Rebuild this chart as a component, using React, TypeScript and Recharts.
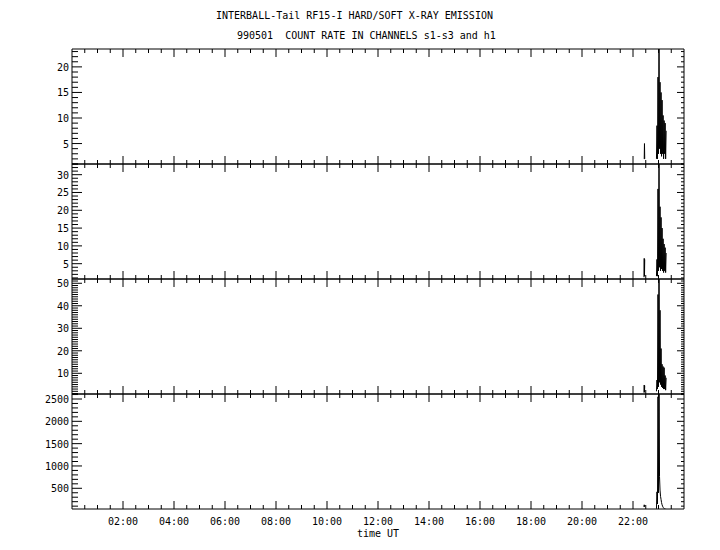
import React from 'react';
import { LineChart, Line, XAxis, YAxis } from 'recharts';

// time in hours UT, null rows break the line (data gaps)
const TIME_UT = [
  22.43, 22.44, 22.45, 22.46, 22.7,
  22.92, 22.94, 22.96, 22.98, 23.0, 23.02, 23.04, 23.06, 23.08, 23.1,
  23.12, 23.14, 23.16, 23.18, 23.2, 23.22, 23.24, 23.26, 23.28, 23.3,
];
const S1 = [
  2, 2, 5, 2, null,
  2, 8.5, 2, 18, 3, 30, 4, 17, 3, 15,
  2.5, 13.5, 3, 10.5, 2, 9.5, 3, 9, 2, 7.5,
];
const S2 = [
  1.2, 6.5, 1.5, 6.2, null,
  1.5, 6.2, 1.5, 26, 3, 40, 4, 21, 3, 18,
  3.5, 15, 3, 12, 2.5, 10.5, 3, 9.5, 2.5, 8,
];
const S3 = [
  1.4, 4.8, 1.6, 4.5, null,
  2, 7, 3, 45, 4, 70, 6, 38, 5, 21,
  4, 14, 3.5, 13, 3, 12.5, 3, 9, 2.5, 8,
];
const H1 = [
  80, 130, 90, 120, null,
  40, 420, 150, 2550, 400, 3500, 760, 460, 320, 250,
  180, 130, 100, 70, 60, 50, 40, 35, 30, 30,
];

const X_MAJOR = [2, 4, 6, 8, 10, 12, 14, 16, 18, 20, 22];
const X_TICKS = Array.from({ length: 47 }, (_, i) => (i + 1) * 0.5);

const rows = TIME_UT.map((t, i) => ({ t, s1: S1[i], s2: S2[i], s3: S3[i], h1: H1[i] }));

const FONT = '"DejaVu Sans Mono", "Liberation Mono", monospace';

const panels = [
  { key: 's1', top: 49, bottom: 164, domain: [1, 23.5], major: [5, 10, 15, 20], minorStep: 1 },
  { key: 's2', top: 164, bottom: 279, domain: [0.7, 33], major: [5, 10, 15, 20, 25, 30], minorStep: 1 },
  { key: 's3', top: 279, bottom: 394, domain: [0.8, 51.9], major: [10, 20, 30, 40, 50], minorStep: 1 },
  { key: 'h1', top: 394, bottom: 509, domain: [36, 2612], major: [500, 1000, 1500, 2000, 2500], minorStep: 100 },
];

const AXIS_H = 1;

function yTicks(domain: number[], step: number) {
  const out: number[] = [];
  for (let v = Math.ceil(domain[0] / step) * step; v <= domain[1]; v += step) out.push(v);
  return out;
}

const fmtHour = (h: number) => `${String(h).padStart(2, '0')}:00`;

function YTick(props: any) {
  const { x, y, payload, side, major } = props;
  const isMajor = major.includes(payload.value);
  const dir = side === 'left' ? 1 : -1;
  const len = side === 'left' ? (isMajor ? 10 : 6) : isMajor ? 7 : 3;
  return (
    <g>
      <line x1={x} x2={x + dir * len} y1={y} y2={y} stroke="#000" strokeWidth={1} />
      {side === 'left' && isMajor && (
        <text x={x - 3} y={y + 4} textAnchor="end" fontFamily={FONT} fontSize={10} fill="#000">
          {payload.value}
        </text>
      )}
    </g>
  );
}

function XTick(props: any) {
  const { x, y, payload, side, labels } = props;
  const isMajor = X_MAJOR.includes(payload.value);
  const dir = side === 'bottom' ? -1 : 1;
  const len = isMajor ? 8 : 4;
  return (
    <g>
      <line x1={x} x2={x} y1={y} y2={y + dir * len} stroke="#000" strokeWidth={1} />
      {labels && isMajor && (
        <text x={x} y={y + 16} textAnchor="middle" fontFamily={FONT} fontSize={10} fill="#000">
          {fmtHour(payload.value)}
        </text>
      )}
    </g>
  );
}

function Panel({ p, last }: { p: any; last: boolean }) {
  const ticks = yTicks(p.domain, p.minorStep);
  return (
    <div style={{ position: 'absolute', left: 0, top: 0 }}>
      <LineChart
        width={720}
        height={550}
        data={rows}
        margin={{ top: p.top - AXIS_H, bottom: 550 - p.bottom - AXIS_H, left: 0, right: 0 }}
      >
        <XAxis
          xAxisId="b"
          orientation="bottom"
          dataKey="t"
          type="number"
          domain={[0, 24]}
          allowDataOverflow
          ticks={X_TICKS}
          interval={0}
          height={AXIS_H}
          tickSize={0}
          tickMargin={0}
          axisLine={{ stroke: '#000' }}
          tickLine={false}
          tick={(tp: any) => <XTick {...tp} side="bottom" labels={last} />}
        />
        <XAxis
          xAxisId="t"
          orientation="top"
          dataKey="t"
          type="number"
          domain={[0, 24]}
          allowDataOverflow
          ticks={X_TICKS}
          interval={0}
          height={AXIS_H}
          tickSize={0}
          tickMargin={0}
          axisLine={{ stroke: '#000' }}
          tickLine={false}
          tick={(tp: any) => <XTick {...tp} side="top" labels={false} />}
        />
        <YAxis
          yAxisId="l"
          type="number"
          domain={p.domain}
          allowDataOverflow
          ticks={ticks}
          interval={0}
          width={72}
          tickSize={0}
          tickMargin={0}
          axisLine={{ stroke: '#000' }}
          tickLine={false}
          tick={(tp: any) => <YTick {...tp} side="left" major={p.major} />}
        />
        <YAxis
          yAxisId="r"
          orientation="right"
          type="number"
          domain={p.domain}
          allowDataOverflow
          ticks={ticks}
          interval={0}
          width={36}
          tickSize={0}
          tickMargin={0}
          axisLine={{ stroke: '#000' }}
          tickLine={false}
          tick={(tp: any) => <YTick {...tp} side="right" major={p.major} />}
        />
        <Line
          xAxisId="b"
          yAxisId="l"
          type="linear"
          dataKey={p.key}
          stroke="#000"
          strokeWidth={1}
          dot={false}
          connectNulls={false}
          isAnimationActive={false}
        />
        <Line
          xAxisId="t"
          yAxisId="r"
          type="linear"
          dataKey={p.key}
          stroke="none"
          dot={false}
          legendType="none"
          isAnimationActive={false}
        />
      </LineChart>
    </div>
  );
}

export default function App() {
  return (
    <div style={{ position: 'absolute', left: 0, top: 0, width: 720, height: 550, background: '#fff' }}>
      {panels.map((p, i) => (
        <Panel key={p.key} p={p} last={i === panels.length - 1} />
      ))}
      <svg width={720} height={550} style={{ position: 'absolute', left: 0, top: 0, pointerEvents: 'none' }}>
        <text x={216} y={19} fontFamily={FONT} fontSize={10} fill="#000">
          INTERBALL-Tail RF15-I HARD/SOFT X-RAY EMISSION
        </text>
        <text x={237} y={39} fontFamily={FONT} fontSize={10} fill="#000" xmlSpace="preserve">
          990501  COUNT RATE IN CHANNELS s1-s3 and h1
        </text>
        <text x={357} y={537} fontFamily={FONT} fontSize={10} fill="#000">
          time UT
        </text>
      </svg>
    </div>
  );
}
